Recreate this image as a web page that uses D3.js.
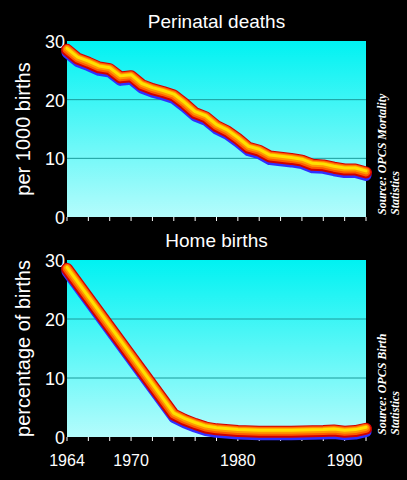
<!DOCTYPE html>
<html><head><meta charset="utf-8">
<script src="https://cdn.jsdelivr.net/npm/d3@7"></script>
<style>body{margin:0;background:#000;}svg{display:block;}</style>
</head><body>
<script>
const width = 407, height = 480;
const marginLeft = 67, marginRight = 41;

const perinatalYears = [1964,1965,1966,1967,1968,1969,1970,1971,1972,1973,1974,1975,1976,1977,1978,1979,1980,1981,1982,1983,1984,1985,1986,1987,1988,1989,1990,1991,1992];
const perinatalRate = [28.5,27,26.3,25.5,25.2,23.8,24,22.5,21.8,21.3,20.7,19.3,17.7,17.0,15.5,14.6,13.3,11.8,11.3,10.3,10.1,9.9,9.6,8.9,8.8,8.4,8.1,8.1,7.6];
const homeYears = [1964,1974,1975,1976,1977,1978,1980,1982,1985,1988,1989,1990,1991,1992];
const homePercent = [28.5,3.8,2.9,2.2,1.6,1.3,1.0,0.9,0.9,1.0,1.1,0.9,1.0,1.4];
const yTicks = [0,10,20,30];
const xTickLabels = [1964,1970,1980,1990];

const svg = d3.select("body").append("svg").attr("width", width).attr("height", height);

const grad = svg.append("defs").append("linearGradient").attr("id","bg").attr("x1",0).attr("y1",0).attr("x2",0).attr("y2",1);
grad.append("stop").attr("offset","0%").attr("stop-color","#00f2f2");
grad.append("stop").attr("offset","100%").attr("stop-color","#b4fcfc");

const x = d3.scaleLinear().domain([1964, 1992]).range([marginLeft, width - marginRight]);
const font = "Liberation Sans, Arial, sans-serif";

function panel(top, bottom, title, yLabel, source, years, values) {
    const y = d3.scaleLinear().domain([0, 30]).range([bottom, top]);
    const data = years.map((d, i) => ({x: d, y: values[i]}));

    svg.append("rect").attr("x", x(1964)).attr("y", y(30))
        .attr("width", x(1992) - x(1964)).attr("height", y(0) - y(30))
        .attr("fill", "url(#bg)");

    svg.selectAll(null).data([10, 20]).enter().append("line")
        .attr("x1", x(1964)).attr("x2", x(1992))
        .attr("y1", d => y(d)).attr("y2", d => y(d))
        .attr("stroke", "#1a9a9a").attr("stroke-width", 1);

    svg.selectAll(null).data(d3.range(1964, 1993, 2)).enter().append("line")
        .attr("x1", d => x(d)).attr("x2", d => x(d))
        .attr("y1", y(0)).attr("y2", y(0) + 4)
        .attr("stroke", "#fff").attr("stroke-width", 1);

    svg.selectAll(null).data(yTicks).enter().append("text")
        .attr("x", x(1964) - 2).attr("y", d => y(d) + 7)
        .attr("text-anchor", "end").attr("fill", "#fff")
        .attr("font-family", font).attr("font-size", 18)
        .text(d => d);

    svg.append("text").attr("x", (x(1964) + x(1992)) / 2).attr("y", top - 13)
        .attr("text-anchor", "middle").attr("fill", "#fff")
        .attr("font-family", font).attr("font-size", 19)
        .text(title);

    svg.append("text").attr("transform", `translate(30,${(top + bottom) / 2}) rotate(-90)`)
        .attr("text-anchor", "middle").attr("fill", "#fff")
        .attr("font-family", font).attr("font-size", 20)
        .text(yLabel);

    const src = svg.append("text").attr("transform", `translate(386,${bottom - 2}) rotate(-90)`)
        .attr("fill", "#fff").attr("font-family", "Liberation Serif, Times New Roman, serif")
        .attr("font-style", "italic").attr("font-weight", "bold").attr("font-size", 12);
    src.append("tspan").attr("x", 0).attr("dy", 0).text(source[0]);
    src.append("tspan").attr("x", 0).attr("dy", 13).text(source[1]);

    const line = d3.line().x(d => x(d.x)).y(d => y(d.y)).curve(d3.curveLinear);
    const layers = [
        {c: "#3030ff", w: 11, dy: 3},
        {c: "#d00000", w: 12, dy: 0},
        {c: "#ff5a00", w: 9, dy: -0.5},
        {c: "#ff9a00", w: 6, dy: -1},
        {c: "#ffe000", w: 3, dy: -1.5}
    ];
    layers.forEach(l => {
        svg.append("path").attr("d", line(data))
            .attr("transform", `translate(0,${l.dy})`)
            .attr("fill", "none").attr("stroke", l.c).attr("stroke-width", l.w)
            .attr("stroke-linecap", "round").attr("stroke-linejoin", "round");
    });
    return y;
}

panel(41, 217, "Perinatal deaths", "per 1000 births", ["Source: OPCS Mortality", "Statistics"], perinatalYears, perinatalRate);
const yb = panel(260, 437, "Home births", "percentage of births", ["Source: OPCS Birth", "Statistics"], homeYears, homePercent);

svg.selectAll(null).data(xTickLabels).enter().append("text")
    .attr("x", d => x(d)).attr("y", yb(0) + 29)
    .attr("text-anchor", "middle").attr("fill", "#fff")
    .attr("font-family", font).attr("font-size", 16)
    .text(d => d);
</script>
</body></html>
